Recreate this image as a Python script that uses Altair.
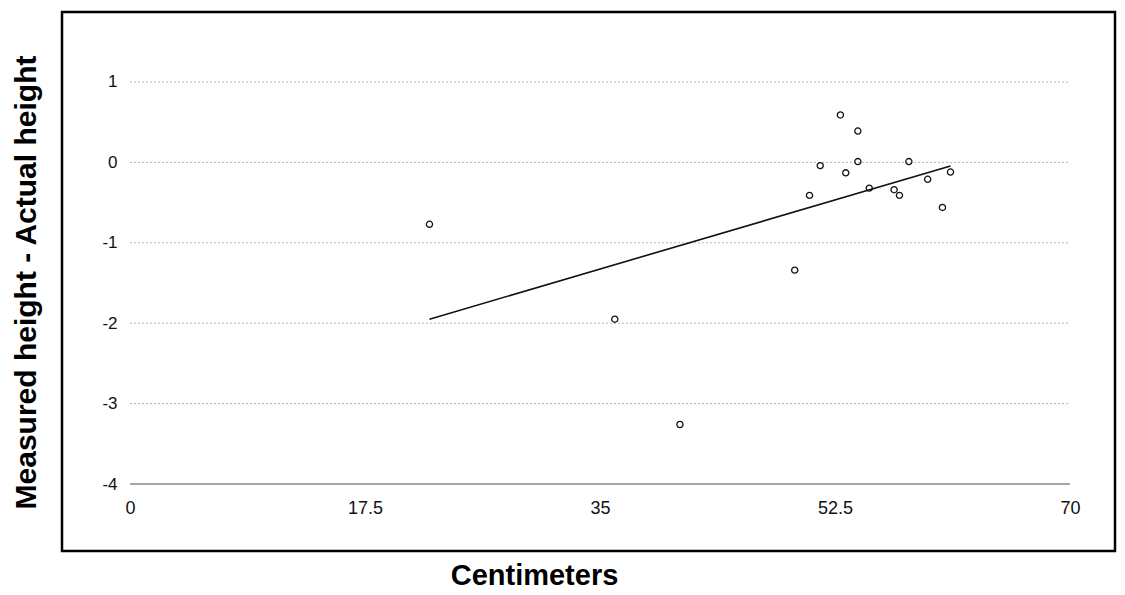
import altair as alt
import pandas as pd

# ---- data ----
x_cm = [22.3, 36.1, 40.95, 49.5, 52.9, 54.2, 51.4, 54.2, 53.3, 50.6, 55.05, 56.9, 57.3, 58.0, 59.4, 60.5, 61.1]
diff = [-0.77, -1.95, -3.26, -1.34, 0.59, 0.39, -0.04, 0.01, -0.13, -0.41, -0.32, -0.34, -0.41, 0.01, -0.21, -0.56, -0.12]

x_ticks = [0, 17.5, 35, 52.5, 70]
y_ticks = [-4, -3, -2, -1, 0, 1]
grid_y = [1, 0, -1, -2, -3]
base_y = [-4]

x_title = "Centimeters"
y_title = "Measured height - Actual height"

pts = pd.DataFrame({"x": x_cm, "y": diff})
grid = pd.DataFrame({"y": grid_y, "x0": [x_ticks[0]] * len(grid_y), "x1": [x_ticks[-1]] * len(grid_y)})
base = pd.DataFrame({"y": base_y, "x0": [x_ticks[0]], "x1": [x_ticks[-1]]})

FONT = "Liberation Sans"
xs = alt.Scale(domain=[-5.064, 73.35], nice=False, zero=False)
ys = alt.Scale(domain=[-4.8333, 1.8706], nice=False, zero=False)

xaxis = alt.Axis(
    values=x_ticks, title=x_title, grid=False, domain=False, ticks=False,
    tickSize=0, labelPadding=0, offset=-38, labelBaseline="alphabetic",
    labelFont=FONT, labelFontSize=18, labelColor="#111",
    labelExpr="'' + datum.value", labelOverlap=False, labelFlush=False,
    titleFont=FONT, titleFontSize=29, titleFontWeight="bold", titleColor="#000",
    titleX=472, titleY=71, titleAlign="center", titleBaseline="alphabetic",
)
yaxis = alt.Axis(
    values=y_ticks, title=y_title, grid=False, domain=False, ticks=False,
    tickSize=0, labelPadding=0, offset=-55, labelAlign="right", labelBaseline="middle",
    labelFont=FONT, labelFontSize=17, labelColor="#111",
    labelExpr="'' + datum.value", labelOverlap=False, labelFlush=False,
    titleFont=FONT, titleFontSize=30, titleFontWeight="bold", titleColor="#000",
    titleX=-82, titleY=270, titleAngle=270, titleAlign="center", titleBaseline="alphabetic",
)

grid_layer = alt.Chart(grid).mark_rule(color="#b5b5b5", strokeWidth=1, strokeDash=[2, 2]).encode(
    x=alt.X("x0:Q", scale=xs, axis=xaxis),
    x2="x1:Q",
    y=alt.Y("y:Q", scale=ys, axis=yaxis),
)

base_layer = alt.Chart(base).mark_rule(color="#8a8a8a", strokeWidth=1.5).encode(
    x=alt.X("x0:Q", scale=xs, axis=xaxis),
    x2="x1:Q",
    y=alt.Y("y:Q", scale=ys, axis=yaxis),
)

points = alt.Chart(pts).mark_point(
    shape="circle", filled=False, color="#111", size=38, strokeWidth=1.3, opacity=1
).encode(
    x=alt.X("x:Q", scale=xs, axis=xaxis),
    y=alt.Y("y:Q", scale=ys, axis=yaxis),
)

fit = alt.Chart(pts).transform_regression("x", "y").mark_line(color="#111", strokeWidth=1.6).encode(
    x=alt.X("x:Q", scale=xs, axis=xaxis),
    y=alt.Y("y:Q", scale=ys, axis=yaxis),
)

chart = alt.layer(grid_layer, base_layer, fit, points).properties(
    width=1053,
    height=539,
    autosize=alt.AutoSizeParams(type="none"),
    padding={"left": 54, "top": 4, "right": 2, "bottom": 44},
    background="white",
).configure_view(stroke="#000", strokeWidth=2.5)

chart.save("out.html", embed_options={"renderer": "svg", "actions": False})
